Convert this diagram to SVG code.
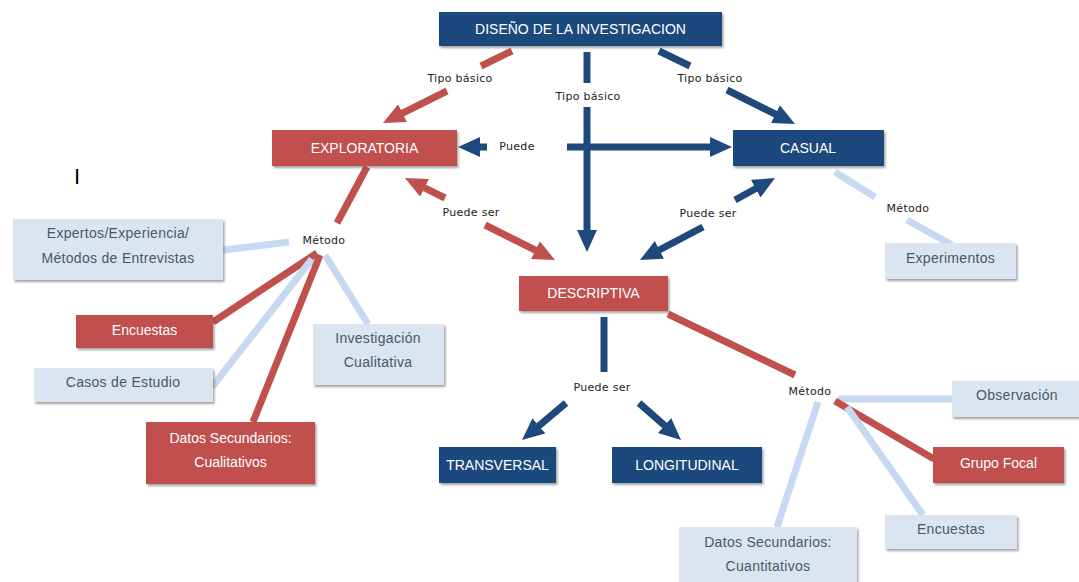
<svg xmlns="http://www.w3.org/2000/svg" width="1079" height="582" viewBox="0 0 1079 582">
<style>
.bg{fill:#ffffff}
.dark{fill:#1f497d}
.red{fill:#c0504d}
.light{fill:#dbe5f1}
.box{filter:url(#sh)}
.tw{font-family:"Liberation Sans",Arial,sans-serif;font-size:14px;fill:#ffffff;text-anchor:middle}
.tl{font-family:"Liberation Sans",Arial,sans-serif;font-size:14px;fill:#4a5768;text-anchor:middle;letter-spacing:0.3px}
.lab{font-family:"DejaVu Sans","Noto Sans",sans-serif;font-size:11px;fill:#222222;text-anchor:middle;letter-spacing:0.3px}
.cb{stroke:#1f497d;stroke-width:7;fill:none}
.cr{stroke:#c0504d;stroke-width:7;fill:none}
.cl{stroke:#c6d9f1;stroke-width:7;fill:none}
.ab{marker-end:url(#mb)}
.ar{marker-end:url(#mr)}
</style>
<defs>
<filter id="sh" x="-10%" y="-10%" width="125%" height="135%">
<feDropShadow dx="1.5" dy="2" stdDeviation="0.8" flood-color="#555555" flood-opacity="0.55"/>
</filter>
<marker id="mb" viewBox="0 0 22 20" markerWidth="22" markerHeight="20" refX="9" refY="10" orient="auto" markerUnits="userSpaceOnUse">
<path d="M0,0 L22,10 L0,20 z" fill="#1f497d"/>
</marker>
<marker id="mr" viewBox="0 0 22 20" markerWidth="22" markerHeight="20" refX="9" refY="10" orient="auto" markerUnits="userSpaceOnUse">
<path d="M0,0 L22,10 L0,20 z" fill="#c0504d"/>
</marker>
</defs>
<rect class="bg" x="0" y="0" width="1079" height="582"/>

<g id="connectors">
<!-- DISEÑO -> EXPLORATORIA -->
<path class="cr" d="M512,51 L481,66"/>
<path class="cr ar" d="M447,91 L394.6,117.2"/>
<!-- DISEÑO -> DESCRIPTIVA -->
<path class="cb" d="M587,52 L587,83"/>
<path class="cb ab" d="M587,107 L587,239"/>
<!-- DISEÑO -> CASUAL -->
<path class="cb" d="M659,51 L690,66"/>
<path class="cb ab" d="M727,90 L783.4,118.2"/>
<!-- Puede -->
<path class="cb ab" d="M487,147 L471,147"/>
<path class="cb ab" d="M567,147 L719,147"/>
<!-- Puede ser (red) -->
<path class="cr ar" d="M445,198 L416.6,183.8"/>
<path class="cr ar" d="M485,225 L543.4,254.2"/>
<!-- Puede ser (blue) -->
<path class="cb ab" d="M735,200 L763.6,184.3"/>
<path class="cb ab" d="M703,227 L651.5,254"/>
<!-- EXPLORATORIA -> Método -->
<path class="cr" d="M367,167 L337,223"/>
<path class="cl" d="M289,242 L223,250"/>
<path class="cr" d="M317,253 L213,322"/>
<path class="cl" d="M312,259 L212,387"/>
<path class="cr" d="M320,255 L253,422"/>
<path class="cl" d="M325,255 L368,324"/>
<!-- CASUAL -> Experimentos -->
<path class="cl" d="M835,172 L875,197"/>
<path class="cl" d="M907,220 L952,245"/>
<!-- DESCRIPTIVA -> Puede ser -->
<path class="cb" d="M604,317 L604,372"/>
<path class="cb ab" d="M566,403 L532,431.6"/>
<path class="cb ab" d="M639,403 L671.3,431.4"/>
<!-- DESCRIPTIVA -> Método -->
<path class="cr" d="M668,314 L795,375"/>
<path class="cl" d="M838,399 L952,399"/>
<path class="cr" d="M835,401 L934,459"/>
<path class="cl" d="M847,407 L923,515"/>
<path class="cl" d="M818,402 L777,527"/>
</g>

<g id="labels">
<text class="lab" x="460" y="82">Tipo básico</text>
<text class="lab" x="588" y="100">Tipo básico</text>
<text class="lab" x="710" y="82">Tipo básico</text>
<text class="lab" x="517" y="150">Puede</text>
<text class="lab" x="471" y="216">Puede ser</text>
<text class="lab" x="708" y="217">Puede ser</text>
<text class="lab" x="602" y="391">Puede ser</text>
<text class="lab" x="324" y="244">Método</text>
<text class="lab" x="908" y="212">Método</text>
<text class="lab" x="810" y="395">Método</text>
<text x="77" y="184" style="font-family:'Liberation Sans',Arial,sans-serif;font-size:22px;fill:#000000;text-anchor:middle">I</text>
</g>

<g id="n-diseno"><rect class="dark box" x="439" y="12" width="283" height="34"/><text class="tw" x="580.5" y="34">DISEÑO DE LA INVESTIGACION</text></g>
<g id="n-exploratoria"><rect class="red box" x="272" y="130" width="185" height="36"/><text class="tw" x="364.5" y="153">EXPLORATORIA</text></g>
<g id="n-casual"><rect class="dark box" x="733" y="130" width="151" height="36"/><text class="tw" x="808" y="153">CASUAL</text></g>
<g id="n-descriptiva"><rect class="red box" x="519" y="276" width="149" height="35"/><text class="tw" x="593.5" y="298">DESCRIPTIVA</text></g>
<g id="n-transversal"><rect class="dark box" x="439" y="447" width="117" height="36"/><text class="tw" x="497.5" y="470">TRANSVERSAL</text></g>
<g id="n-longitudinal"><rect class="dark box" x="612" y="447" width="150" height="36"/><text class="tw" x="687" y="470">LONGITUDINAL</text></g>
<g id="n-expertos"><rect class="light box" x="13" y="219" width="210" height="61"/><text class="tl" x="118" y="238">Expertos/Experiencia/</text><text class="tl" x="118" y="263">Métodos de Entrevistas</text></g>
<g id="n-encuestas1"><rect class="red box" x="76" y="315" width="137" height="33"/><text class="tw" x="144.5" y="335">Encuestas</text></g>
<g id="n-casos"><rect class="light box" x="34" y="368" width="179" height="34"/><text class="tl" x="123" y="387">Casos de Estudio</text></g>
<g id="n-investigacion"><rect class="light box" x="313" y="324" width="131" height="61"/><text class="tl" x="378" y="343">Investigación</text><text class="tl" x="378" y="367">Cualitativa</text></g>
<g id="n-datos-cual"><rect class="red box" x="146" y="422" width="169" height="62"/><text class="tw" x="230.5" y="443">Datos Secundarios:</text><text class="tw" x="230.5" y="467">Cualitativos</text></g>
<g id="n-experimentos"><rect class="light box" x="885" y="243" width="131" height="36"/><text class="tl" x="950.5" y="263">Experimentos</text></g>
<g id="n-observacion"><rect class="light box" x="952" y="381" width="132" height="36"/><text class="tl" x="1017" y="400">Observación</text></g>
<g id="n-grupo-focal"><rect class="red box" x="933" y="447" width="131" height="36"/><text class="tw" x="998.5" y="468">Grupo Focal</text></g>
<g id="n-encuestas2"><rect class="light box" x="885" y="515" width="132" height="34"/><text class="tl" x="951" y="534">Encuestas</text></g>
<g id="n-datos-cuant"><rect class="light box" x="679" y="527" width="178" height="60"/><text class="tl" x="768" y="547">Datos Secundarios:</text><text class="tl" x="768" y="571">Cuantitativos</text></g>
</svg>
